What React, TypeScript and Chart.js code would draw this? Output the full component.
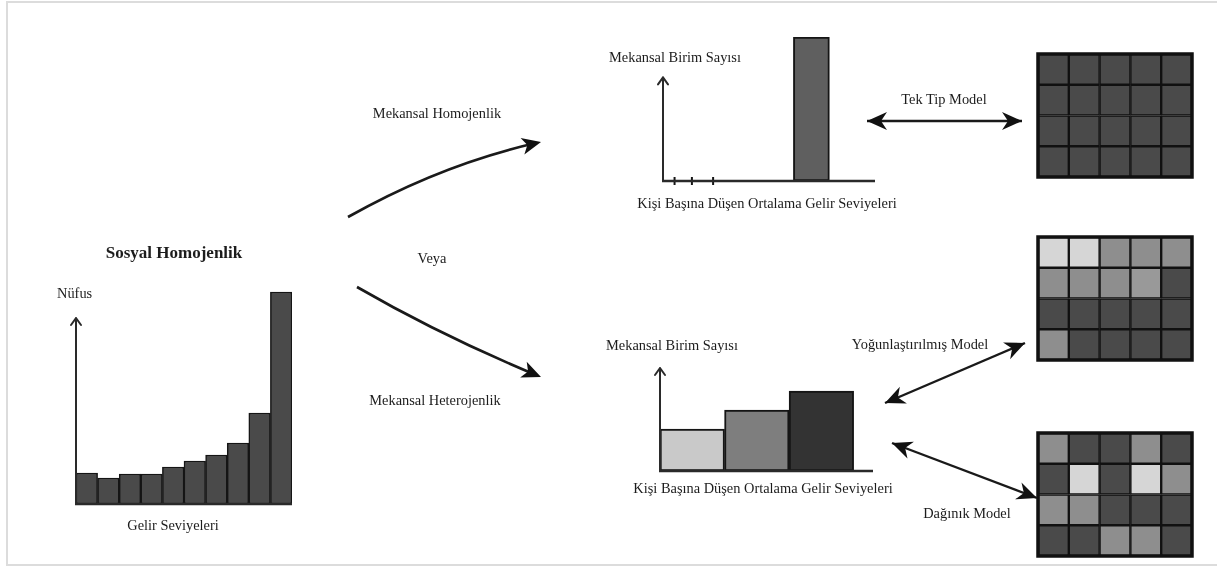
import React, { useEffect, useRef } from "react";
import { Chart, registerables } from "chart.js";

Chart.register(...registerables);

const FONT = '"Liberation Serif", "Times New Roman", serif';

// ---- Sosyal Homojenlik (left histogram) ----
const socialCategories = ["1", "2", "3", "4", "5", "6", "7", "8", "9", "10"];
const socialPopulation = [31, 26, 30, 30, 37, 43, 49, 61, 91, 212];
const socialYMax = 224;
const socialAxisTop = 186;

// ---- Mekansal Homojenlik (top chart) ----
const homoTickPositions = [0.6, 1.5, 2.6];
const homoBarPosition = [7.7];
const homoBarValue = [100];
const homoXMax = 11;
const homoYMax = 100;
const homoAxisTop = 72;

// ---- Mekansal Heterojenlik (bottom chart) ----
const heteroPositions = [0.5, 1.5, 2.5];
const heteroValues = [42, 61, 80];
const heteroColors = ["#c9c9c9", "#7e7e7e", "#333333"];
const heteroXMax = 3.3;
const heteroYMax = 106;
const heteroAxisTop = 103;

// ---- Grids (5 columns x 4 rows, top row first) ----
const D = "#4a4a4a";
const G = "#8e8e8e";
const L = "#d6d6d6";
const gridColumns = ["1", "2", "3", "4", "5"];
const gridCellSize = 1;
const uniformGrid = [
  [D, D, D, D, D],
  [D, D, D, D, D],
  [D, D, D, D, D],
  [D, D, D, D, D],
];
const concentratedGrid = [
  [L, L, G, G, G],
  [G, G, G, "#999999", D],
  [D, D, D, D, D],
  [G, D, D, D, D],
];
const dispersedGrid = [
  [G, D, D, G, D],
  [D, L, D, L, G],
  [G, G, D, D, D],
  [D, D, G, G, D],
];

const axesPlugin = (axisTop: number) => ({
  id: "axesArrow",
  afterDatasetsDraw(chart: any) {
    const { ctx, chartArea } = chart;
    const ys = chart.scales.y;
    const x0 = chartArea.left;
    const yb = ys.getPixelForValue(0);
    const yt = ys.getPixelForValue(axisTop);
    ctx.save();
    ctx.strokeStyle = "#2a2a2a";
    ctx.lineWidth = 2;
    ctx.lineCap = "round";
    ctx.lineJoin = "round";
    ctx.beginPath();
    ctx.moveTo(x0, yb);
    ctx.lineTo(x0, yt);
    ctx.moveTo(x0 - 5, yt + 7);
    ctx.lineTo(x0, yt);
    ctx.lineTo(x0 + 5, yt + 7);
    ctx.stroke();
    ctx.lineWidth = 2.5;
    ctx.lineCap = "butt";
    ctx.beginPath();
    ctx.moveTo(x0 - 1, yb);
    ctx.lineTo(chartArea.right, yb);
    ctx.stroke();
    ctx.restore();
  },
});

const framePlugin = {
  id: "gridFrame",
  afterDatasetsDraw(chart: any) {
    const { ctx, chartArea } = chart;
    ctx.save();
    ctx.strokeStyle = "#111";
    ctx.lineWidth = 3.5;
    ctx.strokeRect(
      chartArea.left,
      chartArea.top,
      chartArea.right - chartArea.left,
      chartArea.bottom - chartArea.top
    );
    ctx.restore();
  },
};

const baseOptions = (padding: any) => ({
  animation: false as const,
  responsive: false,
  events: [] as any[],
  layout: { padding },
  plugins: { legend: { display: false }, tooltip: { enabled: false } },
});

function ChartBox({ left, top, width, height, make }: any) {
  const ref = useRef<HTMLCanvasElement | null>(null);
  useEffect(() => {
    if (!ref.current) return;
    const chart = new Chart(ref.current, make());
    return () => chart.destroy();
  }, []);
  return (
    <canvas
      ref={ref}
      width={width}
      height={height}
      style={{ position: "absolute", left, top, width, height }}
    />
  );
}

const socialConfig = () => ({
  type: "bar",
  data: {
    labels: socialCategories,
    datasets: [
      {
        data: socialPopulation,
        backgroundColor: "#4a4a4a",
        borderColor: "#151515",
        borderWidth: 1.5,
        borderSkipped: false,
        barPercentage: 1,
        categoryPercentage: 1,
      },
    ],
  },
  options: {
    ...baseOptions({ left: 10, right: 10, top: 10, bottom: 6 }),
    scales: {
      x: { display: false },
      y: { display: false, min: 0, max: socialYMax },
    },
  },
  plugins: [axesPlugin(socialAxisTop)],
});

const homoConfig = () => ({
  type: "bar",
  data: {
    datasets: [
      {
        type: "bar",
        data: homoBarPosition.map((x, i) => ({ x, y: homoBarValue[i] })),
        backgroundColor: "#5f5f5f",
        borderColor: "#151515",
        borderWidth: 2,
        borderSkipped: false,
        barThickness: 36,
      },
      {
        type: "line",
        data: homoTickPositions.map((x) => ({ x, y: 0 })),
        showLine: false,
        pointStyle: "line",
        pointRotation: 90,
        pointRadius: 4,
        pointBorderWidth: 2,
        pointBorderColor: "#151515",
        clip: false,
      },
    ],
  },
  options: {
    ...baseOptions({ left: 13, right: 15, top: 12, bottom: 9 }),
    scales: {
      x: { type: "linear", display: false, offset: false, min: 0, max: homoXMax },
      y: { display: false, min: 0, max: homoYMax },
    },
  },
  plugins: [axesPlugin(homoAxisTop)],
});

const heteroConfig = () => ({
  type: "bar",
  data: {
    datasets: [
      {
        data: heteroPositions.map((x, i) => ({ x, y: heteroValues[i] })),
        backgroundColor: heteroColors,
        borderColor: "#151515",
        borderWidth: 2,
        borderSkipped: false,
        barPercentage: 1,
        categoryPercentage: 1,
      },
    ],
  },
  options: {
    ...baseOptions({ left: 15, right: 17, top: 10, bottom: 9 }),
    scales: {
      x: { type: "linear", display: false, offset: false, min: 0, max: heteroXMax },
      y: { display: false, min: 0, max: heteroYMax },
    },
  },
  plugins: [axesPlugin(heteroAxisTop)],
});

const gridConfig = (rows: string[][]) => () => ({
  type: "bar",
  data: {
    labels: gridColumns,
    datasets: [...rows].reverse().map((row) => ({
      data: row.map(() => gridCellSize),
      backgroundColor: row,
      borderColor: "#111",
      borderWidth: 1.5,
      borderSkipped: false,
      barPercentage: 1,
      categoryPercentage: 1,
    })),
  },
  options: {
    ...baseOptions(2),
    scales: {
      x: { display: false, stacked: true },
      y: { display: false, stacked: true, min: 0, max: rows.length * gridCellSize },
    },
  },
  plugins: [framePlugin],
});

function head(tx: number, ty: number, fx: number, fy: number, len = 19, hw = 8.5, notch = 5) {
  const a = Math.atan2(ty - fy, tx - fx);
  const c = Math.cos(a), s = Math.sin(a);
  const bx = tx - len * c, by = ty - len * s;
  const p1 = [bx - hw * s, by + hw * c];
  const p2 = [bx + hw * s, by - hw * c];
  const n = [tx - (len - notch) * c, ty - (len - notch) * s];
  return `${tx},${ty} ${p1[0]},${p1[1]} ${n[0]},${n[1]} ${p2[0]},${p2[1]}`;
}

function Overlay() {
  const t = { fontFamily: FONT, fontSize: 14.4, fill: "#1c1c1c" } as any;
  const doubles = [
    [867, 121, 1022, 121],
    [885, 403, 1025, 343],
    [892, 443, 1037, 498],
  ];
  return (
    <svg
      width={1217}
      height={567}
      style={{ position: "absolute", left: 0, top: 0, pointerEvents: "none" }}
    >
      <path d="M348,217 Q440,165 536,143" stroke="#1a1a1a" strokeWidth={2.6} fill="none" />
      <polygon points={head(541, 142, 440, 165)} fill="#111" />
      <path d="M357,287 Q440,335 536,375" stroke="#1a1a1a" strokeWidth={2.6} fill="none" />
      <polygon points={head(541, 377, 440, 335)} fill="#111" />
      {doubles.map(([x1, y1, x2, y2], i) => (
        <g key={i}>
          <line x1={x1} y1={y1} x2={x2} y2={y2} stroke="#1a1a1a" strokeWidth={2.4} />
          <polygon points={head(x1, y1, x2, y2, 20, 9, 6)} fill="#111" />
          <polygon points={head(x2, y2, x1, y1, 20, 9, 6)} fill="#111" />
        </g>
      ))}
      <text {...t} x={174} y={258} textAnchor="middle" fontWeight="bold" fontSize={17}>
        Sosyal Homojenlik
      </text>
      <text {...t} x={57} y={298}>Nüfus</text>
      <text {...t} x={173} y={530} textAnchor="middle">Gelir Seviyeleri</text>
      <text {...t} x={437} y={118} textAnchor="middle">Mekansal Homojenlik</text>
      <text {...t} x={432} y={263} textAnchor="middle">Veya</text>
      <text {...t} x={435} y={405} textAnchor="middle">Mekansal Heterojenlik</text>
      <text {...t} x={675} y={62} textAnchor="middle">Mekansal Birim Sayısı</text>
      <text {...t} x={767} y={208} textAnchor="middle">Kişi Başına Düşen Ortalama Gelir Seviyeleri</text>
      <text {...t} x={672} y={350} textAnchor="middle">Mekansal Birim Sayısı</text>
      <text {...t} x={763} y={493} textAnchor="middle">Kişi Başına Düşen Ortalama Gelir Seviyeleri</text>
      <text {...t} x={944} y={104} textAnchor="middle">Tek Tip Model</text>
      <text {...t} x={920} y={349} textAnchor="middle">Yoğunlaştırılmış Model</text>
      <text {...t} x={967} y={518} textAnchor="middle">Dağınık Model</text>
    </svg>
  );
}

export default function App() {
  return (
    <div
      style={{
        position: "absolute",
        left: 0,
        top: 0,
        width: 1217,
        height: 567,
        background: "#fff",
        overflow: "hidden",
      }}
    >
      <div
        style={{
          position: "absolute",
          left: 6,
          top: 1,
          width: 1220,
          height: 561,
          borderLeft: "2px solid #dcdcdc",
          borderTop: "2px solid #dcdcdc",
          borderBottom: "2px solid #dcdcdc",
        }}
      />
      <ChartBox left={66} top={270} width={236} height={240} make={socialConfig} />
      <ChartBox left={650} top={25} width={240} height={165} make={homoConfig} />
      <ChartBox left={645} top={355} width={245} height={125} make={heteroConfig} />
      <ChartBox left={1036} top={52} width={158} height={127} make={gridConfig(uniformGrid)} />
      <ChartBox left={1036} top={235} width={158} height={127} make={gridConfig(concentratedGrid)} />
      <ChartBox left={1036} top={431} width={158} height={127} make={gridConfig(dispersedGrid)} />
      <Overlay />
    </div>
  );
}
